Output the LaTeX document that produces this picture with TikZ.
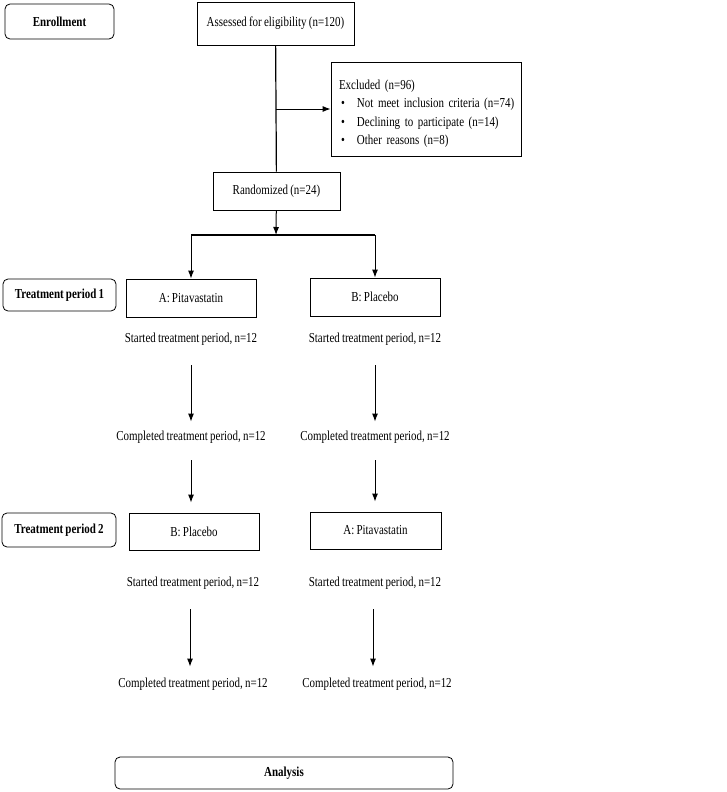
\documentclass[tikz,border=0pt]{standalone}
\usepackage{fontspec}
\setmainfont{Liberation Serif}[FakeStretch=0.8, WordSpace=0.8]
\usetikzlibrary{arrows.meta}
\tikzset{
	phase/.style={draw, rounded corners=5pt, line width=0.8pt, font=\fontsize{13.7}{16}\selectfont\bfseries, inner sep=0pt},
	box/.style={draw, line width=0.8pt, font=\fontsize{13.7}{16}\selectfont, inner sep=0pt},
	txt/.style={font=\fontsize{13.7}{16}\selectfont, inner sep=1pt},
	arr/.style={line width=1pt, -{Latex[length=8pt,width=6pt]}}
}
\newcommand{\exclitem}[1]{\mbox{\hspace*{2pt}\makebox[16pt][l]{\textbullet}#1}}

\begin{document}
\begin{tikzpicture}[x=1pt, y=-1pt]
			%%%%% START %%%%%
			\useasboundingbox (0, 0) rectangle (727, 792);
			
			% phase labels
			\node[phase, minimum width=109pt, minimum height=35pt] (enrol) at (59.5, 21.5) {Enrollment};
			\node[phase, minimum width=113pt, minimum height=32pt] (per1) at (59.5, 295) {Treatment period 1};
			\node[phase, minimum width=114pt, minimum height=34pt] (per2) at (59, 530) {Treatment period 2};
			\node[phase, minimum width=338pt, minimum height=32pt] (anal) at (284, 773) {Analysis};
			
			% enrollment
			\node[box, minimum width=157pt, minimum height=43pt] (assess) at (275.5, 23.5) {Assessed for eligibility (n=120)};
			\node[box, minimum width=190pt, minimum height=94pt, text width=174pt, align=left,
				font=\fontsize{13.7}{18.4}\selectfont] (excl) at (426, 109)
				{\mbox{\rule{0pt}{19pt}Excluded (n=96)}\\
				\exclitem{Not meet inclusion criteria (n=74)}\\
				\exclitem{Declining to participate (n=14)}\\
				\exclitem{Other reasons (n=8)}};
			\node[box, minimum width=127pt, minimum height=38pt] (rand) at (276.5, 191) {Randomized (n=24)};
			\coordinate (split) at (276, 235);
			
			\draw[line width=1.2pt] (assess) -- (rand);
			\draw[arr] (assess.south |- excl.west) -- (excl.west);
			\draw[arr] (rand) -- (split);
			
			% period 1
			\node[box, minimum width=130pt, minimum height=38pt] (pa1) at (191, 298) {A: Pitavastatin};
			\node[box, minimum width=130pt, minimum height=38pt] (pb1) at (375, 297) {B: Placebo};
			\node[txt] (sa1) at (191, 339) {Started treatment period, n=12};
			\node[txt] (sb1) at (375, 339) {Started treatment period, n=12};
			\node[txt] (ca1) at (191, 437) {Completed treatment period, n=12};
			\node[txt] (cb1) at (375, 437) {Completed treatment period, n=12};
			
			\draw[line width=1.6pt] (pa1.north |- split) -- (pb1.north |- split);
			\draw[arr] (pa1.north |- split) -- (pa1);
			\draw[arr] (pb1.north |- split) -- (pb1);
			\draw[arr, shorten <=19pt, shorten >=8pt] (sa1) -- (ca1);
			\draw[arr, shorten <=19pt, shorten >=8pt] (sb1) -- (cb1);
			
			% period 2
			\node[box, minimum width=130pt, minimum height=37pt] (pb2) at (194, 531.5) {B: Placebo};
			\node[box, minimum width=131pt, minimum height=37pt] (pa2) at (375.5, 530.5) {A: Pitavastatin};
			\node[txt] (sb2) at (193, 583) {Started treatment period, n=12};
			\node[txt] (sa2) at (375, 583) {Started treatment period, n=12};
			\node[txt] (cb2) at (193, 684) {Completed treatment period, n=12};
			\node[txt] (ca2) at (377, 684) {Completed treatment period, n=12};
			
			\draw[arr, shorten <=16pt, shorten >=10pt] (ca1) -- (ca1 |- pb2.north);
			\draw[arr, shorten <=16pt, shorten >=10pt] (cb1) -- (cb1 |- pa2.north);
			\draw[arr, shorten <=19pt, shorten >=10pt] (sb2.south -| 190, 0) -- (cb2.north -| 190, 0);
			\draw[arr, shorten <=19pt, shorten >=10pt] (sa2.south -| 373, 0) -- (ca2.north -| 373, 0);
			
			%%%%% END %%%%%
\end{tikzpicture}
\end{document}
